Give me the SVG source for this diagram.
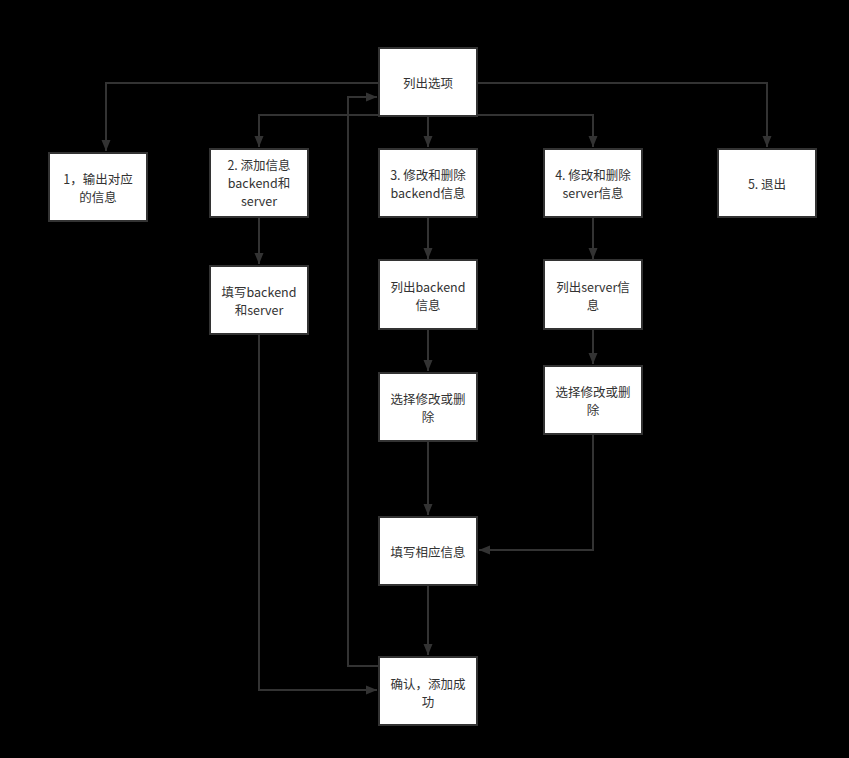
<svg xmlns="http://www.w3.org/2000/svg" width="849" height="758" viewBox="0 0 849 758">
<style>
.box{fill:#ffffff;stroke:#333333;stroke-width:2}
.t{font-family:"Noto Sans CJK SC","Noto Sans",sans-serif;font-size:12.5px;fill:#333333;text-anchor:middle;dominant-baseline:central}
.c{fill:none;stroke:#333333;stroke-width:2}
</style>
<defs>
<marker id="arr" markerUnits="userSpaceOnUse" markerWidth="12" markerHeight="12" viewBox="0 0 12 12" refX="11" refY="6" orient="auto">
<path d="M0,1.5 L11,6 L0,10.5 Z" fill="#333333"/>
</marker>
</defs>
<rect width="849" height="758" fill="#000000"/>
<g id="connectors">
<path class="c" d="M378,83 H106 V151" marker-end="url(#arr)"/>
<path class="c" d="M478,83 H767 V147" marker-end="url(#arr)"/>
<path class="c" d="M378,115 H259 V147" marker-end="url(#arr)"/>
<path class="c" d="M428,117 V147" marker-end="url(#arr)"/>
<path class="c" d="M478,115 H593 V147" marker-end="url(#arr)"/>
<path class="c" d="M259,218 V264" marker-end="url(#arr)"/>
<path class="c" d="M428,218 V259" marker-end="url(#arr)"/>
<path class="c" d="M593,218 V259" marker-end="url(#arr)"/>
<path class="c" d="M259,335 V690 H377" marker-end="url(#arr)"/>
<path class="c" d="M428,330 V371" marker-end="url(#arr)"/>
<path class="c" d="M593,330 V364" marker-end="url(#arr)"/>
<path class="c" d="M428,442 V515" marker-end="url(#arr)"/>
<path class="c" d="M593,435 V550 H479" marker-end="url(#arr)"/>
<path class="c" d="M428,586 V655" marker-end="url(#arr)"/>
<path class="c" d="M378,666 H348 V97 H377" marker-end="url(#arr)"/>
</g>
<g id="n-list">
<rect class="box" x="379" y="48" width="98" height="68"/>
<text class="t" x="428" y="82">列出选项</text>
</g>
<g id="n-1">
<rect class="box" x="49" y="153" width="98" height="68"/>
<text class="t" x="98" y="178">1，输出对应</text>
<text class="t" x="98" y="196">的信息</text>
</g>
<g id="n-2">
<rect class="box" x="210" y="149" width="98" height="68"/>
<text class="t" x="259" y="164">2. 添加信息</text>
<text class="t" x="259" y="182">backend和</text>
<text class="t" x="259" y="200">server</text>
</g>
<g id="n-3">
<rect class="box" x="379" y="149" width="98" height="68"/>
<text class="t" x="428" y="174">3. 修改和删除</text>
<text class="t" x="428" y="192">backend信息</text>
</g>
<g id="n-4">
<rect class="box" x="544" y="149" width="98" height="68"/>
<text class="t" x="593" y="174">4. 修改和删除</text>
<text class="t" x="593" y="192">server信息</text>
</g>
<g id="n-5">
<rect class="box" x="718" y="149" width="98" height="68"/>
<text class="t" x="767" y="183">5. 退出</text>
</g>
<g id="n-fill-backend">
<rect class="box" x="210" y="266" width="98" height="68"/>
<text class="t" x="259" y="291">填写backend</text>
<text class="t" x="259" y="309">和server</text>
</g>
<g id="n-list-backend">
<rect class="box" x="379" y="260" width="98" height="69"/>
<text class="t" x="428" y="286">列出backend</text>
<text class="t" x="428" y="304">信息</text>
</g>
<g id="n-list-server">
<rect class="box" x="544" y="260" width="98" height="69"/>
<text class="t" x="593" y="286">列出server信</text>
<text class="t" x="593" y="304">息</text>
</g>
<g id="n-select-3">
<rect class="box" x="379" y="373" width="98" height="68"/>
<text class="t" x="428" y="398">选择修改或删</text>
<text class="t" x="428" y="416">除</text>
</g>
<g id="n-select-4">
<rect class="box" x="544" y="366" width="98" height="68"/>
<text class="t" x="593" y="391">选择修改或删</text>
<text class="t" x="593" y="409">除</text>
</g>
<g id="n-fill-info">
<rect class="box" x="379" y="517" width="98" height="68"/>
<text class="t" x="428" y="551">填写相应信息</text>
</g>
<g id="n-confirm">
<rect class="box" x="379" y="657" width="98" height="68"/>
<text class="t" x="428" y="683">确认，添加成</text>
<text class="t" x="428" y="701">功</text>
</g>
</svg>
